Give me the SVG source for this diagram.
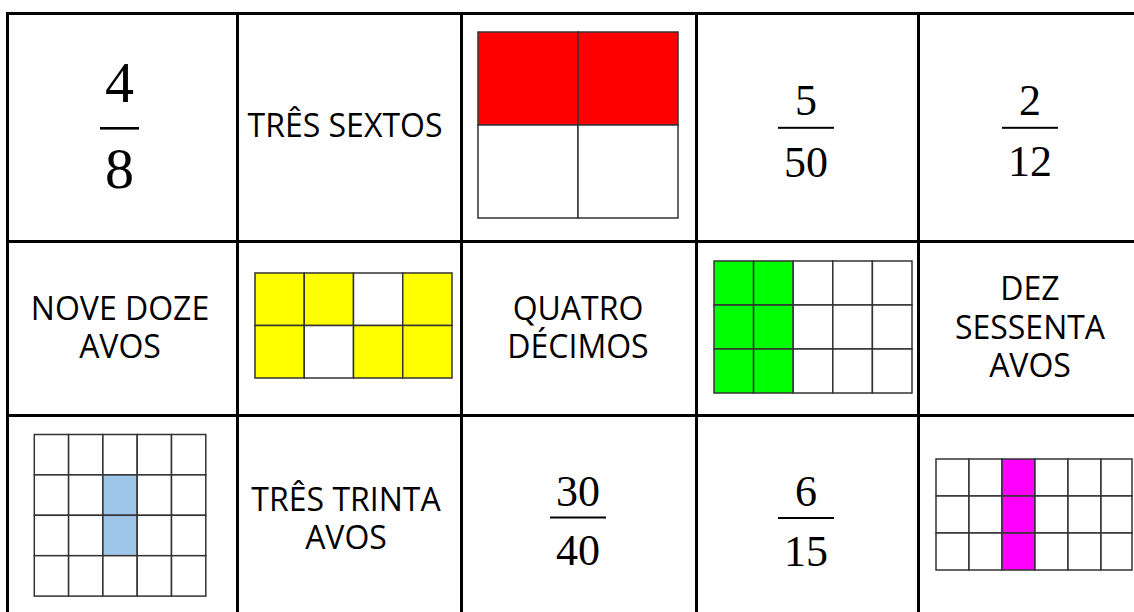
<svg xmlns="http://www.w3.org/2000/svg" width="1134" height="612" viewBox="0 0 1134 612">
<style>
.t{font-family:"Open Sans","Noto Sans","DejaVu Sans",sans-serif;font-size:32px;fill:#000;text-anchor:middle}
.f{font-family:"Liberation Serif","DejaVu Serif",serif;fill:#000;text-anchor:middle}
.big{font-size:58px}
.sm{font-size:44px}
.bar{fill:#000}
.g rect{stroke:#333;stroke-width:1.5}
.tl{stroke:#000;stroke-width:3;fill:none}
</style>
<rect width="1134" height="612" fill="#fff"/>

<g id="c11">
<text class="f big" x="119.5" y="102">4</text>
<rect class="bar" x="100" y="127" width="39" height="2.6"/>
<text class="f big" x="119.5" y="188">8</text>
</g>
<g id="c12"><text class="t" x="345" y="137">TRÊS SEXTOS</text></g>
<g id="c13" class="g">
<rect x="478" y="32" width="100" height="93" fill="#ff0000"/>
<rect x="578" y="32" width="100" height="93" fill="#ff0000"/>
<rect x="478" y="125" width="100" height="93" fill="#fff"/>
<rect x="578" y="125" width="100" height="93" fill="#fff"/>
</g>
<g id="c14">
<text class="f sm" x="806" y="115">5</text>
<rect class="bar" x="778" y="126.8" width="56" height="2"/>
<text class="f sm" x="806" y="177">50</text>
</g>
<g id="c15">
<text class="f sm" x="1030" y="115">2</text>
<rect class="bar" x="1002" y="126.8" width="56" height="2"/>
<text class="f sm" x="1030" y="176">12</text>
</g>

<g id="c21"><text class="t" x="120" y="320">NOVE DOZE</text><text class="t" x="120" y="358">AVOS</text></g>
<g id="c22" class="g">
<rect x="255" y="273" width="49.25" height="52.5" fill="#ffff00"/>
<rect x="304.25" y="273" width="49.25" height="52.5" fill="#ffff00"/>
<rect x="353.5" y="273" width="49.25" height="52.5" fill="#fff"/>
<rect x="402.75" y="273" width="49.25" height="52.5" fill="#ffff00"/>
<rect x="255" y="325.5" width="49.25" height="52.5" fill="#ffff00"/>
<rect x="304.25" y="325.5" width="49.25" height="52.5" fill="#fff"/>
<rect x="353.5" y="325.5" width="49.25" height="52.5" fill="#ffff00"/>
<rect x="402.75" y="325.5" width="49.25" height="52.5" fill="#ffff00"/>
</g>
<g id="c23"><text class="t" x="578" y="320">QUATRO</text><text class="t" x="578" y="358">DÉCIMOS</text></g>
<g id="c24" class="g">
<rect x="714" y="261" width="39.6" height="44" fill="#00ff00"/>
<rect x="753.6" y="261" width="39.6" height="44" fill="#00ff00"/>
<rect x="793.2" y="261" width="39.6" height="44" fill="#fff"/>
<rect x="832.8" y="261" width="39.6" height="44" fill="#fff"/>
<rect x="872.4" y="261" width="39.6" height="44" fill="#fff"/>
<rect x="714" y="305" width="39.6" height="44" fill="#00ff00"/>
<rect x="753.6" y="305" width="39.6" height="44" fill="#00ff00"/>
<rect x="793.2" y="305" width="39.6" height="44" fill="#fff"/>
<rect x="832.8" y="305" width="39.6" height="44" fill="#fff"/>
<rect x="872.4" y="305" width="39.6" height="44" fill="#fff"/>
<rect x="714" y="349" width="39.6" height="44" fill="#00ff00"/>
<rect x="753.6" y="349" width="39.6" height="44" fill="#00ff00"/>
<rect x="793.2" y="349" width="39.6" height="44" fill="#fff"/>
<rect x="832.8" y="349" width="39.6" height="44" fill="#fff"/>
<rect x="872.4" y="349" width="39.6" height="44" fill="#fff"/>
</g>
<g id="c25"><text class="t" x="1030" y="300">DEZ</text><text class="t" x="1030" y="338.5">SESSENTA</text><text class="t" x="1030" y="377">AVOS</text></g>

<g id="c31" class="g">
<rect x="34.3" y="434.5" width="34.3" height="40.4" fill="#fff"/>
<rect x="68.6" y="434.5" width="34.3" height="40.4" fill="#fff"/>
<rect x="102.9" y="434.5" width="34.3" height="40.4" fill="#fff"/>
<rect x="137.2" y="434.5" width="34.3" height="40.4" fill="#fff"/>
<rect x="171.5" y="434.5" width="34.3" height="40.4" fill="#fff"/>
<rect x="34.3" y="474.9" width="34.3" height="40.4" fill="#fff"/>
<rect x="68.6" y="474.9" width="34.3" height="40.4" fill="#fff"/>
<rect x="102.9" y="474.9" width="34.3" height="40.4" fill="#9fc5e8"/>
<rect x="137.2" y="474.9" width="34.3" height="40.4" fill="#fff"/>
<rect x="171.5" y="474.9" width="34.3" height="40.4" fill="#fff"/>
<rect x="34.3" y="515.3" width="34.3" height="40.4" fill="#fff"/>
<rect x="68.6" y="515.3" width="34.3" height="40.4" fill="#fff"/>
<rect x="102.9" y="515.3" width="34.3" height="40.4" fill="#9fc5e8"/>
<rect x="137.2" y="515.3" width="34.3" height="40.4" fill="#fff"/>
<rect x="171.5" y="515.3" width="34.3" height="40.4" fill="#fff"/>
<rect x="34.3" y="555.7" width="34.3" height="40.4" fill="#fff"/>
<rect x="68.6" y="555.7" width="34.3" height="40.4" fill="#fff"/>
<rect x="102.9" y="555.7" width="34.3" height="40.4" fill="#fff"/>
<rect x="137.2" y="555.7" width="34.3" height="40.4" fill="#fff"/>
<rect x="171.5" y="555.7" width="34.3" height="40.4" fill="#fff"/>
</g>
<g id="c32"><text class="t" x="346" y="510.5">TRÊS TRINTA</text><text class="t" x="346" y="549">AVOS</text></g>
<g id="c33">
<text class="f sm" x="578" y="506">30</text>
<rect class="bar" x="550" y="516.5" width="56" height="2"/>
<text class="f sm" x="578" y="565">40</text>
</g>
<g id="c34">
<text class="f sm" x="806" y="506">6</text>
<rect class="bar" x="778" y="517" width="56" height="2"/>
<text class="f sm" x="806" y="566">15</text>
</g>
<g id="c35" class="g">
<rect x="936" y="459" width="33" height="37" fill="#fff"/>
<rect x="969" y="459" width="33" height="37" fill="#fff"/>
<rect x="1002" y="459" width="33" height="37" fill="#ff00ff"/>
<rect x="1035" y="459" width="33" height="37" fill="#fff"/>
<rect x="1068" y="459" width="33" height="37" fill="#fff"/>
<rect x="1101" y="459" width="31" height="37" fill="#fff"/>
<rect x="936" y="496" width="33" height="37" fill="#fff"/>
<rect x="969" y="496" width="33" height="37" fill="#fff"/>
<rect x="1002" y="496" width="33" height="37" fill="#ff00ff"/>
<rect x="1035" y="496" width="33" height="37" fill="#fff"/>
<rect x="1068" y="496" width="33" height="37" fill="#fff"/>
<rect x="1101" y="496" width="31" height="37" fill="#fff"/>
<rect x="936" y="533" width="33" height="37" fill="#fff"/>
<rect x="969" y="533" width="33" height="37" fill="#fff"/>
<rect x="1002" y="533" width="33" height="37" fill="#ff00ff"/>
<rect x="1035" y="533" width="33" height="37" fill="#fff"/>
<rect x="1068" y="533" width="33" height="37" fill="#fff"/>
<rect x="1101" y="533" width="31" height="37" fill="#fff"/>
</g>

<g id="table-lines" class="tl">
<path d="M7.5 612V13.5H1140"/>
<path d="M6 241.5H1140M6 415.5H1140"/>
<path d="M237.5 12V612M461.5 12V612M696.5 12V612M918.5 12V612"/>
</g>
</svg>
